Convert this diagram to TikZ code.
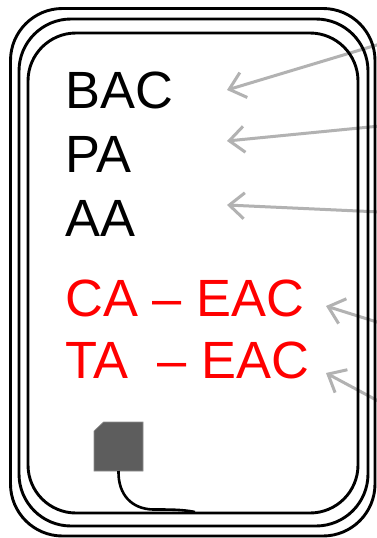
\documentclass[tikz,border=0pt]{standalone}
\usepackage{fontspec}
\setmainfont{Liberation Sans}
\usetikzlibrary{arrows.meta}
\definecolor{arrowgray}{RGB}{178,178,178}
\definecolor{boxgray}{RGB}{93,93,93}
\tikzset{
  wall/.style={draw=black,line width=2.9pt,rounded corners=#1},
  lab/.style={anchor=base west,inner sep=0pt,font=\fontsize{52.4}{52.4}\selectfont},
  black lab/.style={lab,text=black},
  red lab/.style={lab,text=red},
  pointer/.style={draw=arrowgray,line width=3pt,-{Straight Barb[length=15pt,width=26pt,line width=3pt]}},
  cable/.style={draw=black,line width=2.6pt},
}
\begin{document}
\begin{tikzpicture}[x=1pt,y=-1pt]
\useasboundingbox (0,0) rectangle (377,538);
\fill[white] (0,0) rectangle (377,538);
\coordinate (e1) at (380,44);
\coordinate (e2) at (380,126);
\coordinate (e3) at (380,212);
\coordinate (e4) at (380,323);
\coordinate (e5) at (380,402);
\coordinate (t1) at (227,90);
\coordinate (t2) at (227,141);
\coordinate (t3) at (227,205);
\coordinate (t4) at (326,306);
\coordinate (t5) at (326,373);
\begin{scope}
\clip (0,0) rectangle (377,538);
\draw[pointer] (e1) -- (t1);
\draw[pointer] (e2) -- (t2);
\draw[pointer] (e3) -- (t3);
\draw[pointer] (e4) -- (t4);
\draw[pointer] (e5) -- (t5);
\draw[wall=52pt] (10.5,8.5) rectangle (375,536);
\draw[wall=52pt] (19,19) rectangle (368,526);
\draw[wall=48pt] (28,33) rectangle (358,513);
\end{scope}
\node[black lab] (bac) at (65.5,108) {BAC};
\node[black lab] (pa) at (65.5,172) {PA};
\node[black lab] (aa) at (65.5,236) {AA};
\node[red lab] (ca) at (65.5,316) {CA – EAC};
\node[red lab] (ta) at (65.5,378) {TA\ \ – EAC};
\path[fill=boxgray,draw=boxgray!70!white,line width=0.6pt] (94,431) -- (103.5,422) -- (143,422) -- (143,471) -- (94,471) -- cycle;
\coordinate (sensor) at (118.5,471);
\coordinate (join) at (195,512);
\draw[cable] (sensor) .. controls (118,495) and (132,509) .. (153,509.5) .. controls (170,509.5) and (183,509.5) .. (join);
\end{tikzpicture}
\end{document}
